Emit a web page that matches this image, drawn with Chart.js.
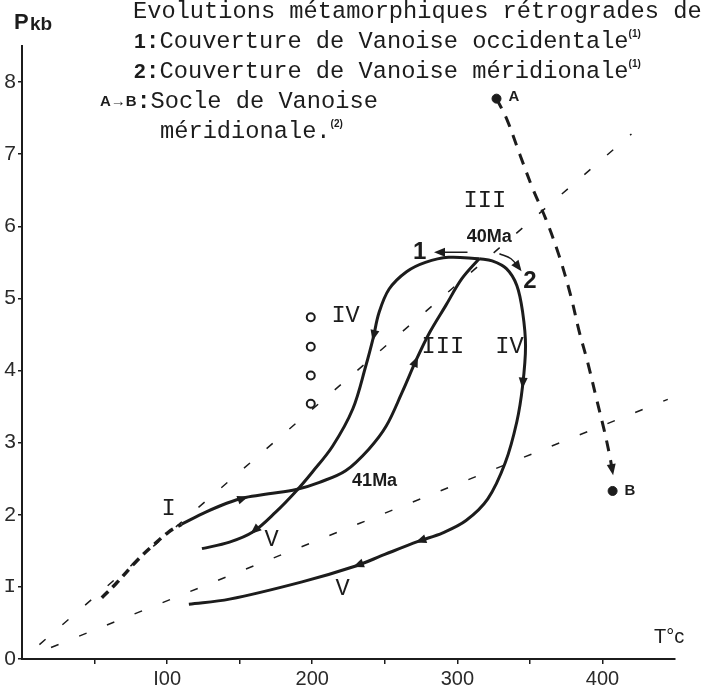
<!DOCTYPE html>
<html>
<head>
<meta charset="utf-8">
<script src="https://cdn.jsdelivr.net/npm/chart.js@4.4.1/dist/chart.umd.min.js"></script>
<style>
  html, body { margin: 0; padding: 0; background: #fff; }
</style>
</head>
<body>
<canvas id="pt-chart" width="702" height="691"></canvas>
<script>
// ---- data (T in °C, P in kb) ----
const xTicks = [50, 100, 150, 200, 250, 300, 350, 400];
const xTickLabels = { 100: 'I00', 200: '200', 300: '300', 400: '400' };
const yTicks = [0, 1, 2, 3, 4, 5, 6, 7, 8];
const yTickLabels = ['0', 'I', '2', '3', '4', '5', '6', '7', '8'];

// prograde path, start (bold dashed) then I -> 41Ma -> III -> 40Ma
const startT = [55, 65, 79, 90, 101, 110];
const startP = [0.85, 1.05, 1.36, 1.57, 1.76, 1.87];
const progradeT = [110, 127, 141, 154, 170, 189, 205, 223, 239, 251, 262, 272, 281, 292, 303, 315];
const progradeP = [1.87, 2.04, 2.16, 2.24, 2.29, 2.35, 2.45, 2.61, 2.91, 3.23, 3.70, 4.16, 4.53, 4.90, 5.27, 5.55];

// 1: Couverture de Vanoise occidentale (retrograde)
const path1T = [315, 294, 278, 265, 253, 246, 242, 237, 228, 214, 200, 189, 175, 159, 143, 124];
const path1P = [5.55, 5.57, 5.50, 5.37, 5.13, 4.80, 4.45, 4.07, 3.47, 2.95, 2.59, 2.33, 2.04, 1.76, 1.62, 1.53];

// 2: Couverture de Vanoise méridionale (retrograde)
const path2T = [315, 324, 334, 341, 345, 347, 345, 341, 333, 321, 306, 290, 273, 250, 230, 193, 143, 115];
const path2P = [5.55, 5.52, 5.41, 5.18, 4.81, 4.34, 3.79, 3.29, 2.72, 2.22, 1.92, 1.75, 1.63, 1.45, 1.29, 1.07, 0.83, 0.76];

// A -> B: Socle de Vanoise méridionale
const socleT = [327, 334, 343, 352, 361, 370, 378, 384, 390, 396, 401, 405, 407];
const socleP = [7.77, 7.49, 7.00, 6.52, 6.10, 5.60, 5.05, 4.54, 4.10, 3.60, 3.19, 2.82, 2.59];
const endsT = [327, 407];
const endsP = [7.77, 2.33];

// reference gradients (thin dashed)
const grad1T = [12, 420];
const grad1P = [0.20, 7.28];
const grad2T = [20, 445];
const grad2P = [0.16, 3.60];

// open circles
const circT = [199, 199, 199, 199];
const circP = [4.74, 4.33, 3.93, 3.54];

// small arrows near the peak
const arrow1T = [307, 286];
const arrow1P = [5.64, 5.64];
const arrow2T = [329, 337, 343];
const arrow2P = [5.62, 5.55, 5.41];

// arrowheads: [fromT, fromP, toT, toP]
const arrowHeads = [
  [140, 2.14, 154, 2.24],
  [262, 3.70, 272, 4.16],
  [246, 4.80, 242, 4.45],
  [175, 2.04, 159, 1.76],
  [347, 4.34, 345, 3.79],
  [290, 1.75, 273, 1.63],
  [250, 1.45, 230, 1.29],
  [405, 2.82, 407, 2.59],
  [290, 5.64, 286, 5.64],
  [340, 5.49, 343, 5.41],
];

// labels in the plot: [text, T, P, kind]
const plotLabels = [
  ['I', 101, 2.08, 'mono'],
  ['V', 172, 1.66, 'mono'],
  ['V', 221, 0.97, 'mono'],
  ['IV', 223, 4.76, 'mono'],
  ['III', 290, 4.33, 'mono'],
  ['IV', 336, 4.33, 'mono'],
  ['III', 319, 6.35, 'mono'],
  ['41Ma', 243, 2.47, 'ma'],
  ['40Ma', 322, 5.85, 'ma'],
  ['1', 274, 5.64, 'num'],
  ['2', 350, 5.24, 'num'],
  ['A', 339, 7.80, 'pt'],
  ['B', 419, 2.33, 'pt'],
];

const ink = '#1c1c1c';
const mono = '"Liberation Mono", monospace';
const sans = '"Liberation Sans", Arial, sans-serif';
const typeFont = '23.7px ' + mono;

const pts = (T, P) => T.map((t, i) => ({ x: t, y: P[i] }));

const line = (T, P, width, dash) => ({
  data: pts(T, P),
  showLine: true,
  borderColor: ink,
  borderWidth: width,
  borderDash: dash || [],
  pointRadius: 0,
  tension: 0.35,
  fill: false,
});

const fonts = {
  mono: typeFont,
  ma: 'bold 18px ' + sans,
  num: 'bold 24px ' + sans,
  pt: 'bold 15px ' + sans,
};

const textPlugin = {
  id: 'pageText',
  afterDatasetsDraw: (chart) => {
    const { ctx, scales: { x, y } } = chart;
    ctx.save();
    ctx.fillStyle = ink;

    // arrowheads
    arrowHeads.forEach(([t0, p0, t1, p1]) => {
      const x0 = x.getPixelForValue(t0), y0 = y.getPixelForValue(p0);
      const x1 = x.getPixelForValue(t1), y1 = y.getPixelForValue(p1);
      const a = Math.atan2(y1 - y0, x1 - x0);
      ctx.save();
      ctx.translate(x1, y1);
      ctx.rotate(a);
      ctx.beginPath();
      ctx.moveTo(3, 0);
      ctx.lineTo(-8, -4.5);
      ctx.lineTo(-8, 4.5);
      ctx.closePath();
      ctx.fill();
      ctx.restore();
    });

    // labels inside the plot
    ctx.textAlign = 'center';
    ctx.textBaseline = 'middle';
    plotLabels.forEach(([txt, t, p, kind]) => {
      ctx.font = fonts[kind];
      ctx.fillText(txt, x.getPixelForValue(t), y.getPixelForValue(p));
    });

    // axis titles
    ctx.textAlign = 'left';
    ctx.textBaseline = 'alphabetic';
    ctx.font = 'bold 22px ' + sans;
    ctx.fillText('P', 14, 29);
    ctx.font = 'bold 19px ' + sans;
    ctx.fillText('kb', 30, 30);
    ctx.font = '20px ' + sans;
    ctx.fillText('T°c', 654, 643);

    // heading block
    const lines = [
      [133, 12, [['Evolutions métamorphiques rétrogrades de', typeFont]]],
      [134, 42, [['1', 'bold 21px ' + sans], [':', 'bold 23px ' + mono], ['Couverture de Vanoise occidentale', typeFont], ['(1)', 'bold 10px ' + sans, -8]]],
      [134, 72, [['2', 'bold 21px ' + sans], [':', 'bold 23px ' + mono], ['Couverture de Vanoise méridionale', typeFont], ['(1)', 'bold 10px ' + sans, -8]]],
      [100, 102, [['A→B', 'bold 15px ' + sans], [':', 'bold 23px ' + mono], ['Socle de Vanoise', typeFont]]],
      [160, 132, [['méridionale.', typeFont], ['(2)', 'bold 10px ' + sans, -8]]],
    ];
    ctx.textBaseline = 'middle';
    lines.forEach(([lx, ly, parts]) => {
      let cx = lx;
      parts.forEach(([txt, font, dy]) => {
        ctx.font = font;
        ctx.fillText(txt, cx, ly + (dy || 0));
        cx += ctx.measureText(txt).width;
      });
    });
    ctx.restore();
  },
};

new Chart(document.getElementById('pt-chart'), {
  type: 'scatter',
  data: {
    datasets: [
      line(grad1T, grad1P, 1.5, [8, 22]),
      line(grad2T, grad2P, 1.5, [8, 22]),
      line(startT, startP, 3.5, [9, 6]),
      line(progradeT, progradeP, 3),
      line(path1T, path1P, 3),
      line(path2T, path2P, 3),
      line(socleT, socleP, 3, [11, 9]),
      line(arrow1T, arrow1P, 1.5),
      line(arrow2T, arrow2P, 1.5),
      {
        data: pts(endsT, endsP),
        pointRadius: 4.5,
        pointBackgroundColor: ink,
        pointBorderColor: ink,
      },
      {
        data: pts(circT, circP),
        pointRadius: 4,
        pointBackgroundColor: '#fff',
        pointBorderColor: ink,
        pointBorderWidth: 2,
      },
    ],
  },
  options: {
    responsive: false,
    animation: false,
    layout: { padding: { top: 46, right: 27, left: 0, bottom: 0 } },
    plugins: { legend: { display: false }, tooltip: { enabled: false } },
    scales: {
      x: {
        type: 'linear',
        min: 0,
        max: 450,
        afterBuildTicks: (s) => { s.ticks = xTicks.map((v) => ({ value: v })); },
        afterFit: (s) => { s.height = 32; },
        ticks: {
          callback: (v) => xTickLabels[v] || '',
          color: '#2a2a2a',
          font: { family: sans, size: 20 },
          padding: 3,
          maxRotation: 0,
          autoSkip: false,
        },
        grid: { drawOnChartArea: false, color: ink, lineWidth: 1.5, tickLength: 5 },
        border: { color: ink, width: 2 },
      },
      y: {
        min: 0,
        max: 8.5,
        afterBuildTicks: (s) => { s.ticks = yTicks.map((v) => ({ value: v })); },
        afterFit: (s) => { s.width = 22; },
        ticks: {
          callback: (v) => yTickLabels[v],
          color: '#2a2a2a',
          font: (c) => (c.tick && c.tick.value === 1
            ? { family: mono, size: 21 }
            : { family: sans, size: 21 }),
          padding: 2,
          autoSkip: false,
        },
        grid: { drawOnChartArea: false, color: ink, lineWidth: 1.5, tickLength: 4 },
        border: { color: ink, width: 2 },
      },
    },
  },
  plugins: [textPlugin],
});
</script>
</body>
</html>
